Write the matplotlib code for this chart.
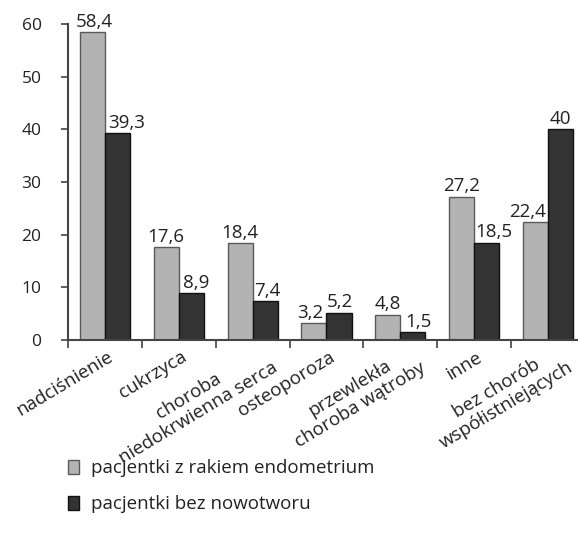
import matplotlib.pyplot as plt
import numpy as np
from matplotlib.patches import Patch

plt.rcParams['font.family'] = ['Open Sans', 'DejaVu Sans']

kategorie = ['nadciśnienie', 'cukrzyca', 'choroba\nniedokrwienna serca', 'osteoporoza',
             'przewlekła\nchoroba wątroby', 'inne', 'bez chorób\nwspółistniejących']
rak_endometrium = [58.4, 17.6, 18.4, 3.2, 4.8, 27.2, 22.4]
bez_nowotworu = [39.3, 8.9, 7.4, 5.2, 1.5, 18.5, 40]
etykiety_y = [0, 10, 20, 30, 40, 50, 60]

# przesunięcia etykiet wartości w poziomie (px), jak w oryginale
przes_jasne = [2, 0, 0, -4, 0, 0, -8]
przes_ciemne = [9, 5, 2, 1, 6, 7, 0]

def fmt(v):
    # przecinek dziesiętny
    s = f'{v:g}'
    return s.replace('.', ',')

fig = plt.figure(figsize=(5.78, 5.41), dpi=100)
ax = fig.add_axes([0.1176, 0.3715, 0.8945, 0.5841])

x = np.arange(len(kategorie))
w = 0.34
b1 = ax.bar(x - w / 2, rak_endometrium, w, color='#b3b3b3', edgecolor='#5a5a5a', linewidth=1.0)
b2 = ax.bar(x + w / 2, bez_nowotworu, w, color='#333333', edgecolor='#111111', linewidth=1.0)

px = 72 / fig.dpi
for bars, vals, przes in [(b1, rak_endometrium, przes_jasne), (b2, bez_nowotworu, przes_ciemne)]:
    for r, v, dx in zip(bars, vals, przes):
        ax.annotate(fmt(v), (r.get_x() + r.get_width() / 2, r.get_height()),
                    xytext=(dx * px, 1), textcoords='offset points',
                    ha='center', va='bottom', fontsize=13.5, color='#222222')

ax.set_xlim(-0.5, 6.5)
ax.set_ylim(0, 60)
ax.set_yticks(etykiety_y)
ax.tick_params(axis='y', labelsize=12.5, colors='#222222', direction='out', length=5, width=1.2, pad=14)

# granice kategorii jako podziałki, nazwy kategorii pod osią
ax.set_xticks(np.arange(-0.5, 7, 1))
ax.set_xticklabels([])
ax.tick_params(axis='x', direction='out', length=6, width=1.2, color='#444444')
for i, k in enumerate(kategorie):
    if '\n' in k:
        off = (9 * px, -2 * px)
    else:
        off = (2 * px, -8 * px)
    ax.annotate(k, (i, 0), xytext=off, textcoords='offset points', rotation=31,
                rotation_mode='anchor', ha='right', va='top', multialignment='center',
                linespacing=1.1, fontsize=13.5, color='#222222', annotation_clip=False)

for s in ['top', 'right']:
    ax.spines[s].set_visible(False)
for s in ['left', 'bottom']:
    ax.spines[s].set_color('#444444')
    ax.spines[s].set_linewidth(1.5)
ax.tick_params(axis='y', color='#444444')

uchwyty = [Patch(facecolor='#b3b3b3', edgecolor='#5a5a5a', label='pacjentki z rakiem endometrium'),
           Patch(facecolor='#333333', edgecolor='#111111', label='pacjentki bez nowotworu')]
fig.legend(handles=uchwyty, loc='upper left', bbox_to_anchor=(0.088, 0.182), frameon=False,
           fontsize=13.5, handlelength=0.6, handleheight=0.75, handletextpad=0.65, labelspacing=0.95,
           labelcolor='#222222')

fig.savefig('out.png', dpi=100)
